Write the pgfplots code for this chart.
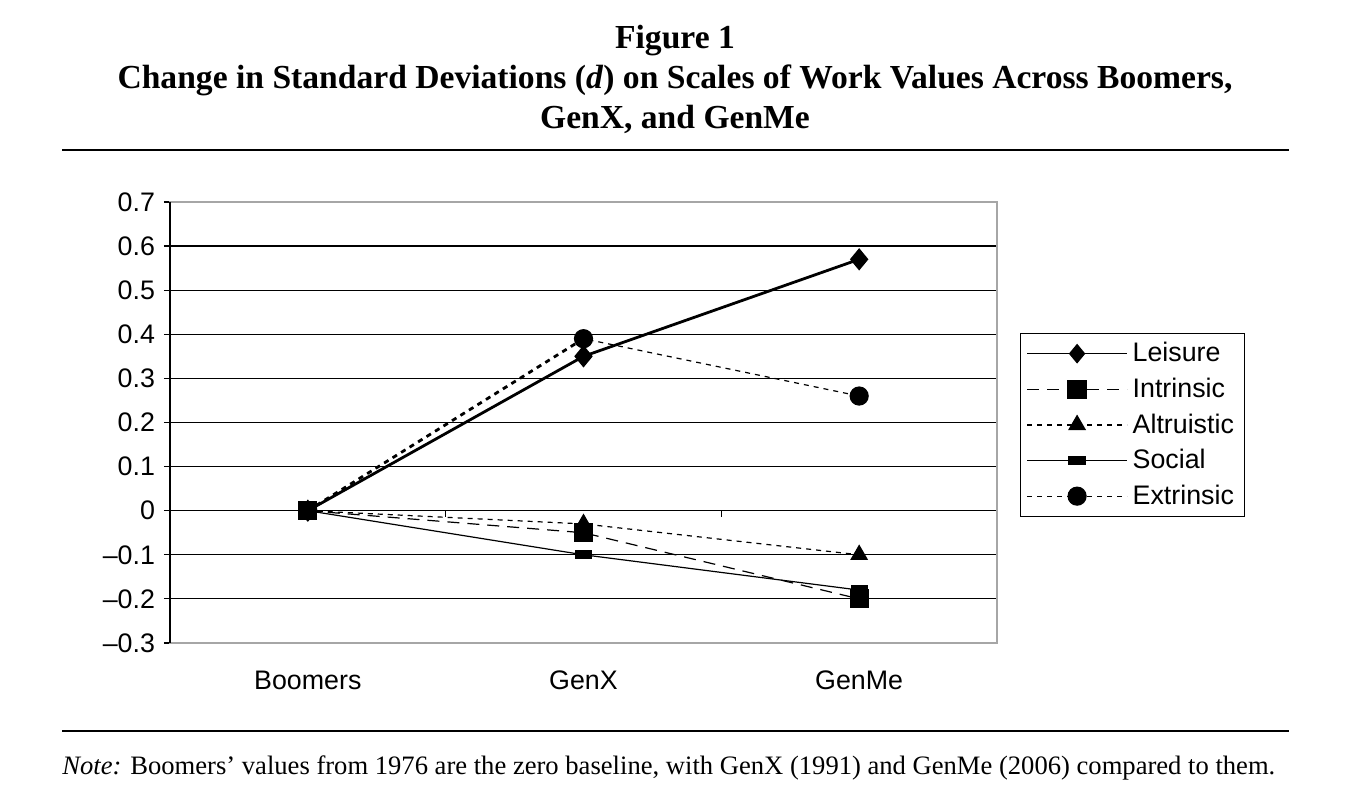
\documentclass[border=0pt]{standalone}
\usepackage{pgfplots}
\pgfplotsset{compat=1.18}
\usepackage{fontspec}
\setmainfont{Liberation Serif}
\newfontfamily\arial{Liberation Sans}
\begin{document}
\begin{tikzpicture}[x=0.5pt,y=0.5pt]
\path (0,0) rectangle (1366,797);
% titles
\node[anchor=base,font=\bfseries\fontsize{16.8}{18}\selectfont,inner sep=0] at (675,797-49) {Figure 1};
\node[anchor=base,font=\bfseries\fontsize{16.8}{18}\selectfont,inner sep=0] at (675,797-89) {Change in Standard Deviations (\textit{d}) on Scales of Work Values Across Boomers,};
\node[anchor=base,font=\bfseries\fontsize{16.8}{18}\selectfont,inner sep=0] at (675,797-129) {GenX, and GenMe};
\draw[line width=1pt] (62,797-150) -- (1289,797-150);
\draw[line width=1pt] (62,797-731) -- (1289,797-731);
\node[anchor=base west,font=\fontsize{13.3}{15}\selectfont,inner sep=0] at (62,797-775) {\textit{Note:} Boomers’ values from 1976 are the zero baseline, with GenX (1991) and GenMe (2006) compared to them.};
\begin{axis}[
  at={(85pt,77pt)}, anchor=south west,
  scale only axis, width=413.5pt, height=220.5pt,
  xmin=-0.5, xmax=2.5, ymin=-0.3, ymax=0.7,
  clip=false,
  xtick={0,1,2}, xticklabels={Boomers,GenX,GenMe},
  ytick={-0.3,-0.2,-0.1,0,0.1,0.2,0.3,0.4,0.5,0.6,0.7},
  yticklabels={\textendash0.3,\textendash0.2,\textendash0.1,0,0.1,0.2,0.3,0.4,0.5,0.6,0.7},
  ytick pos=left,
  ymajorgrids, grid style={black,line width=0.6pt},
  axis line style={gray!70,line width=0.8pt},
  tick align=outside,
  xtick style={draw=none},
  ytick style={black,line width=0.6pt},
  major tick length=3pt,
  ticklabel style={font=\arial\fontsize{13.4}{15}\selectfont},
  xticklabel style={yshift=-7.5pt},
  yticklabel style={xshift=-1pt},
  legend style={at={(1.0278,0.703)},anchor=north west,draw=black,line width=0.5pt,
    font=\arial\fontsize{13.4}{15}\selectfont,row sep=2.6pt,inner xsep=3pt,inner ysep=2.5pt,
    nodes={inner xsep=2.5pt}},
  legend cell align=left,
  legend image code/.code={\draw[mark repeat=2,mark phase=2,#1,line width=0.6pt] plot coordinates {(0pt,0pt)(25pt,0pt)(50pt,0pt)};},
  every axis plot/.append style={black, mark options={solid,fill=black,draw=black}},
]
\addplot[line width=1.4pt, mark=diamond*, mark size=4.5pt, mark options={solid,fill=black,xscale=1.1}] coordinates {(0,0)(1,0.35)(2,0.57)};
\addlegendentry{Leisure}
\addplot[line width=0.6pt, dash pattern=on 6pt off 4pt, mark=square*, mark size=4.5pt] coordinates {(0,0)(1,-0.05)(2,-0.20)};
\addlegendentry{Intrinsic}
\addplot[line width=0.6pt, dash pattern=on 2.5pt off 2.5pt, mark=triangle*, mark size=4.6pt] coordinates {(0,0)(1,-0.03)(2,-0.10)};
\addlegendentry{Altruistic}
\addplot[line width=0.6pt, mark=square*, mark size=4pt, mark options={solid,fill=black,yscale=0.5}] coordinates {(0,0)(1,-0.10)(2,-0.18)};
\addlegendentry{Social}
\addplot[forget plot, line width=1.4pt, dash pattern=on 2.5pt off 2.5pt] coordinates {(0,0)(1,0.39)};
\addplot[line width=0.6pt, dash pattern=on 2.5pt off 2.5pt, mark=*, mark size=4.5pt] coordinates {(0,0)(1,0.39)(2,0.26)};
\addlegendentry{Extrinsic}
\draw[black,line width=0.8pt] (rel axis cs:0,0) -- (rel axis cs:0,1);
\draw[black,line width=0.6pt] (axis cs:0.5,0) -- ([yshift=-3pt]axis cs:0.5,0);
\draw[black,line width=0.6pt] (axis cs:1.5,0) -- ([yshift=-3pt]axis cs:1.5,0);
\end{axis}
\end{tikzpicture}
\end{document}
